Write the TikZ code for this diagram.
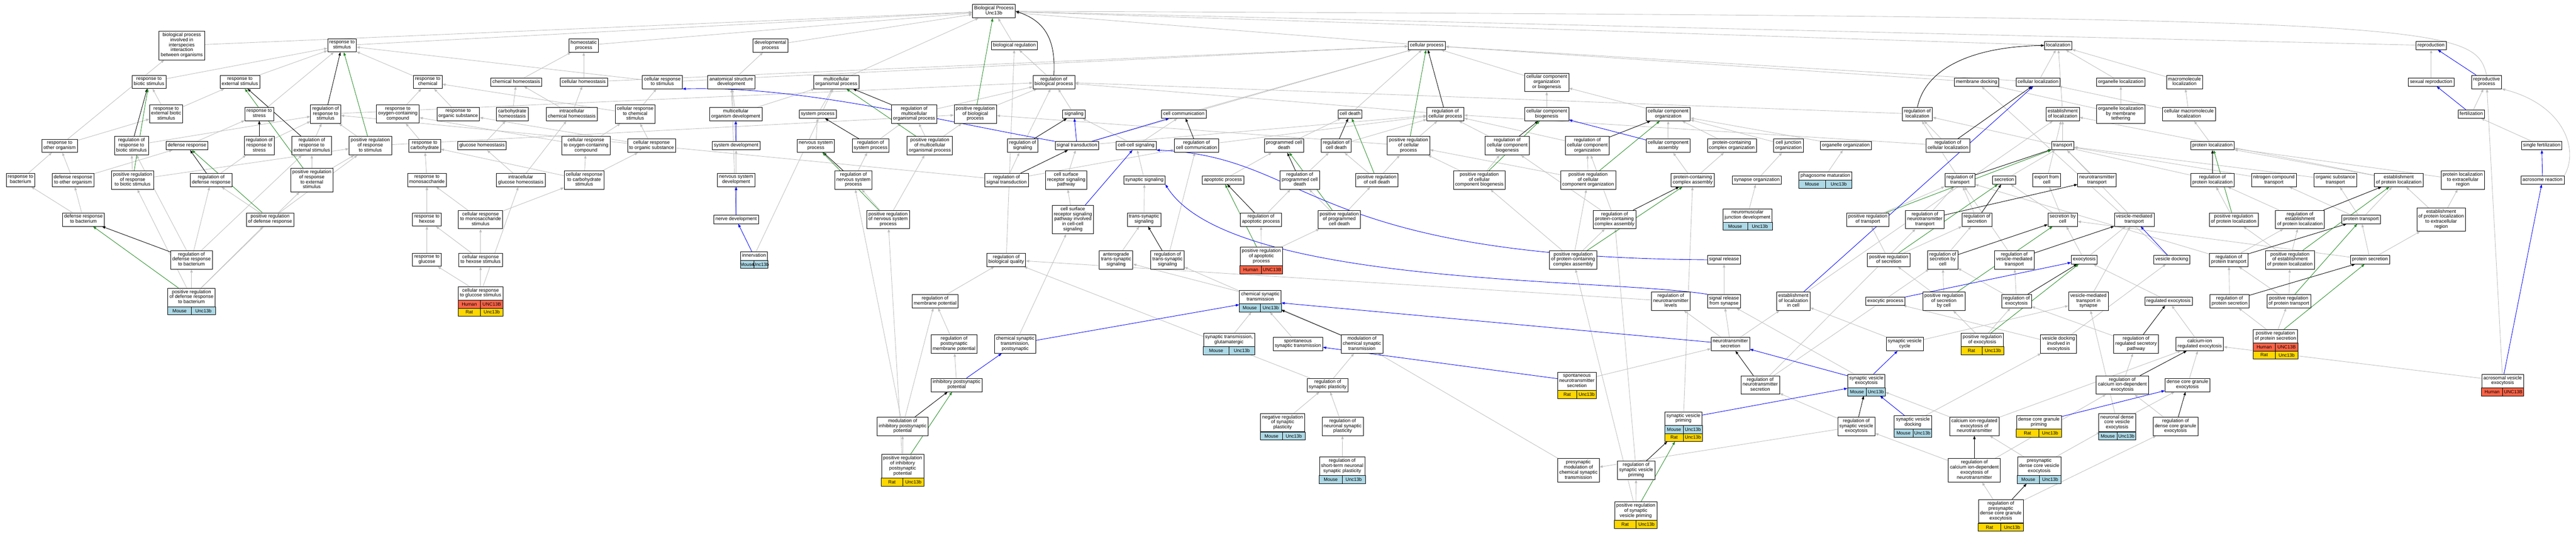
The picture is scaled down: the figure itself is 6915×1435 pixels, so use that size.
\documentclass[tikz,border=0pt]{standalone}
\usepackage{fontspec}
\setmainfont{Liberation Sans}
\usetikzlibrary{arrows.meta,calc,fit,backgrounds}
\definecolor{edgegray}{RGB}{190,190,190}
\definecolor{posgreen}{RGB}{34,139,34}
\definecolor{mousecol}{RGB}{173,216,230}
\definecolor{humancol}{RGB}{255,99,71}
\definecolor{ratcol}{RGB}{255,215,0}
% one row of the species / gene table under a term
\newcommand\generow[5]{%
  \draw[genecell, fill=#3] ($(#1.south west)+(0,#2*21.5)$) rectangle ($(#1.south)+(0,#2*21.5+21.5)$);
  \draw[genecell, fill=#3] ($(#1.south)+(0,#2*21.5)$) rectangle ($(#1.south east)+(0,#2*21.5+21.5)$);
  \node[genetext] at ($(#1.south west)!0.5!(#1.south)+(0,#2*21.5+10.75)$) {#4};
  \node[genetext] at ($(#1.south)!0.5!(#1.south east)+(0,#2*21.5+10.75)$) {#5};}
% frame round a term and its table, for arrows that end on it
\newcommand\genebox[2]{%
  \coordinate (#1-foot) at ($(#1.south)+(0,#2*21.5)$);
  \node[fit=(#1)(#1-foot), inner sep=0pt] (#1-all) {};}

\begin{document}
\begin{tikzpicture}[x=1pt,y=-1pt,
  term/.style={draw=black, line width=1pt, fill=white, align=center, inner xsep=4.5pt, inner ysep=4.5pt,
    font=\fontsize{13}{13.5}\selectfont, execute at begin node=\strut, execute at end node=\strut},
  genecell/.style={draw=black, line width=1pt},
  genetext/.style={font=\fontsize{12.5}{13.5}\selectfont, inner sep=0pt},
  goline/.style={line width=1.2pt, -{Triangle[length=9pt,width=6.5pt]}},
  isa/.style={goline, edgegray},
  partof/.style={goline, blue},
  regulates/.style={goline, black},
  posregulates/.style={goline, posgreen}]
\useasboundingbox (0,0) rectangle (6915,1435);

%%%%% TERMS %%%%%
\node[term] (root) at (2668,30) {Biological Process\\Unc13b};

\node[term] (bpinter) at (488,122) {biological process\\involved in\\interspecies\\interaction\\between organisms};
\node[term] (stim) at (918,122) {response to\\stimulus};
\node[term] (homeo) at (1567,122) {homeostatic\\process};
\node[term] (devproc) at (2068,122) {developmental\\process};
\node[term] (bioreg) at (2723,122) {biological regulation};
\node[term] (cellproc) at (3830,122) {cellular process};
\node[term] (local) at (5525,122) {localization};
\node[term] (reproduction) at (6526,122) {reproduction};

\node[term] (biotic) at (400,220) {response to\\biotic stimulus};
\node[term] (extstim) at (644,220) {response to\\external stimulus};
\node[term] (chem) at (1148,220) {response to\\chemical};
\node[term] (chemhomeo) at (1386,220) {chemical homeostasis};
\node[term] (cellhomeo) at (1567,220) {cellular homeostasis};
\node[term] (cellstim) at (1778,220) {cellular response\\to stimulus};
\node[term] (anatdev) at (1963,220) {anatomical structure\\development};
\node[term] (multiorg) at (2245,220) {multicellular\\organismal process};
\node[term] (regbio) at (2829,220) {regulation of\\biological process};
\node[term] (ccob) at (4152,221) {cellular component\\organization\\or biogenesis};
\node[term] (memdock) at (5306,220) {membrane docking};
\node[term] (cellloc) at (5471,220) {cellular localization};
\node[term] (orgloc) at (5693,220) {organelle localization};
\node[term] (macroloc) at (5864,220) {macromolecule\\localization};
\node[term] (sexrep) at (6526,220) {sexual reproduction};
\node[term] (repproc) at (6675,220) {reproductive\\process};

\node[term] (extbiotic) at (446,306) {response to\\external biotic\\stimulus};
\node[term] (stress) at (696,306) {response to\\stress};
\node[term] (regstim) at (874,306) {regulation of\\response to\\stimulus};
\node[term] (oxy) at (1068,306) {response to\\oxygen-containing\\compound};
\node[term] (organic) at (1230,306) {response to\\organic substance};
\node[term] (carbhomeo) at (1375,306) {carbohydrate\\homeostasis};
\node[term] (intrachem) at (1535,306) {intracellular\\chemical homeostasis};
\node[term] (cellchem) at (1705,306) {cellular response\\to chemical\\stimulus};
\node[term] (multidev) at (1975,306) {multicellular\\organism development};
\node[term] (sysproc) at (2195,306) {system process};
\node[term] (regmulti) at (2454,306) {regulation of\\multicellular\\organismal process};
\node[term] (posregbio) at (2618,306) {positive regulation\\of biological\\process};
\node[term] (signaling) at (2883,306) {signaling};
\node[term] (cellcomm) at (3178,306) {cell communication};
\node[term] (celldeath) at (3624,306) {cell death};
\node[term] (regcell) at (3880,306) {regulation of\\cellular process};
\node[term] (ccbio) at (4152,306) {cellular component\\biogenesis};
\node[term] (ccorg) at (4478,306) {cellular component\\organization};
\node[term] (regloc) at (5147,306) {regulation of\\localization};
\node[term] (estloc) at (5537,306) {establishment\\of localization};
\node[term] (orglocmem) at (5693,306) {organelle localization\\by membrane\\tethering};
\node[term] (cellmacro) at (5876,306) {cellular macromolecule\\localization};
\node[term] (fert) at (6634,306) {fertilization};

\node[term] (otherorg) at (160,391) {response to\\other organism};
\node[term] (regbiotic) at (353,391) {regulation of\\response to\\biotic stimulus};
\node[term] (defense) at (502,391) {defense response};
\node[term] (regstress) at (696,391) {regulation of\\response to\\stress};
\node[term] (regextstim) at (837,391) {regulation of\\response to\\external stimulus};
\node[term] (posregstim) at (994,391) {positive regulation\\of response\\to stimulus};
\node[term] (carbo) at (1140,391) {response to\\carbohydrate};
\node[term] (glchomeo) at (1294,391) {glucose homeostasis};
\node[term] (celloxy) at (1573,391) {cellular response\\to oxygen-containing\\compound};
\node[term] (cellorganic) at (1749,391) {cellular response\\to organic substance};
\node[term] (sysdev) at (1976,391) {system development};
\node[term] (nsproc) at (2190,391) {nervous system\\process};
\node[term] (regsysproc) at (2337,391) {regulation of\\system process};
\node[term] (posregmulti) at (2496,391) {positive regulation\\of multicellular\\organismal process};
\node[term] (regsig) at (2745,391) {regulation of\\signaling};
\node[term] (sigtrans) at (2891,391) {signal transduction};
\node[term] (cellcell) at (3050,391) {cell-cell signaling};
\node[term] (regcomm) at (3212,391) {regulation of\\cell communication};
\node[term] (progdeath) at (3447,391) {programmed cell\\death};
\node[term] (regcelldeath) at (3587,391) {regulation of\\cell death};
\node[term] (posregcell) at (3781,391) {positive regulation\\of cellular\\process};
\node[term] (regccbio) at (4046,391) {regulation of\\cellular component\\biogenesis};
\node[term] (regccorg) at (4261,391) {regulation of\\cellular component\\organization};
\node[term] (ccassembly) at (4478,391) {cellular component\\assembly};
\node[term] (pcorg) at (4649,391) {protein-containing\\complex organization};
\node[term] (celljunc) at (4801,391) {cell junction\\organization};
\node[term] (orgorg) at (4955,391) {organelle organization};
\node[term] (regcellloc) at (5229,391) {regulation of\\cellular localization};
\node[term] (transport) at (5537,391) {transport};
\node[term] (protloc) at (5939,391) {protein localization};
\node[term] (singlefert) at (6823,391) {single fertilization};

\node[term] (bact) at (55,483) {response to\\bacterium};
\node[term] (deforg) at (196,483) {defense response\\to other organism};
\node[term] (posregbiotic) at (356,483) {positive regulation\\of response\\to biotic stimulus};
\node[term] (regdef) at (567,483) {regulation of\\defense response};
\node[term] (posregext) at (837,483) {positive regulation\\of response\\to external\\stimulus};
\node[term] (monosacch) at (1146,483) {response to\\monosaccharide};
\node[term] (intraglc) at (1398,483) {intracellular\\glucose homeostasis};
\node[term] (cellcarbo) at (1568,483) {cellular response\\to carbohydrate\\stimulus};
\node[term] (nsdev) at (1976,483) {nervous system\\development};
\node[term] (regnsproc) at (2291,483) {regulation of\\nervous system\\process};
\node[term] (regsigtrans) at (2702,483) {regulation of\\signal transduction};
\node[term] (csrsp) at (2862,483) {cell surface\\receptor signaling\\pathway};
\node[term] (synsig) at (3072,483) {synaptic signaling};
\node[term] (apoptosis) at (3283,483) {apoptotic process};
\node[term] (regprog) at (3489,483) {regulation of\\programmed cell\\death};
\node[term] (posregcelldeath) at (3696,483) {positive regulation\\of cell death};
\node[term] (posregccbio) at (3971,483) {positive regulation\\of cellular\\component biogenesis};
\node[term] (posregccorg) at (4263,483) {positive regulation\\of cellular\\component organization};
\node[term] (pcassembly) at (4544,483) {protein-containing\\complex assembly};
\node[term] (synorg) at (4716,483) {synapse organization};
\node[term] (phago) at (4900,472) {phagosome maturation};
\node[term] (regtransport) at (5261,483) {regulation of\\transport};
\node[term] (secretion) at (5380,483) {secretion};
\node[term] (exportcell) at (5494,483) {export from\\cell};
\node[term] (nttransport) at (5629,483) {neurotransmitter\\transport};
\node[term] (regprotloc) at (5939,483) {regulation of\\protein localization};
\node[term] (nitro) at (6104,483) {nitrogen compound\\transport};
\node[term] (orgsubst) at (6269,483) {organic substance\\transport};
\node[term] (estprotloc) at (6439,483) {establishment\\of protein localization};
\node[term] (protlocext) at (6611,483) {protein localization\\to extracellular\\region};
\node[term] (acrosome) at (6825,483) {acrosome reaction};

\node[term] (defbact) at (224,589) {defense response\\to bacterium};
\node[term] (posregdef) at (725,589) {positive regulation\\of defense response};
\node[term] (hexose) at (1146,589) {response to\\hexose};
\node[term] (cellmono) at (1290,589) {cellular response\\to monosaccharide\\stimulus};
\node[term] (nervedev) at (1976,589) {nerve development};
\node[term] (posregns) at (2384,589) {positive regulation\\of nervous system\\process};
\node[term] (csrspcc) at (2880,589) {cell surface\\receptor signaling\\pathway involved\\in cell-cell\\signaling};
\node[term] (transsyn) at (3071,589) {trans-synaptic\\signaling};
\node[term] (regapop) at (3385,589) {regulation of\\apoptotic process};
\node[term] (posregprog) at (3595,589) {positive regulation\\of programmed\\cell death};
\node[term] (regpcassembly) at (4334,589) {regulation of\\protein-containing\\complex assembly};
\node[term] (nmjdev) at (4691,578) {neuromuscular\\junction development};
\node[term] (posregtrans) at (5014,589) {positive regulation\\of transport};
\node[term] (regnttrans) at (5167,589) {regulation of\\neurotransmitter\\transport};
\node[term] (regsecretion) at (5307,589) {regulation of\\secretion};
\node[term] (secbycell) at (5537,589) {secretion by\\cell};
\node[term] (vesmed) at (5729,589) {vesicle-mediated\\transport};
\node[term] (posregprotloc) at (5996,589) {positive regulation\\of protein localization};
\node[term] (regestprotloc) at (6174,589) {regulation of\\establishment\\of protein localization};
\node[term] (prottrans) at (6338,589) {protein transport};
\node[term] (estprotlocext) at (6553,589) {establishment\\of protein localization\\to extracellular\\region};

\node[term] (regdefbact) at (514,697) {regulation of\\defense response\\to bacterium};
\node[term] (glucose) at (1146,697) {response to\\glucose};
\node[term] (cellhexose) at (1290,697) {cellular response\\to hexose stimulus};
\node[term] (innerv) at (2024,687) {innervation};
\node[term] (regbioqual) at (2701,697) {regulation of\\biological quality};
\node[term] (antero) at (2996,697) {anterograde\\trans-synaptic\\signaling};
\node[term] (regtranssyn) at (3134,697) {regulation of\\trans-synaptic\\signaling};
\node[term] (posregapop) at (3386,688) {positive regulation\\of apoptotic\\process};
\node[term] (posregpc) at (4223,697) {positive regulation\\of protein-containing\\complex assembly};
\node[term] (sigrel) at (4628,697) {signal release};
\node[term] (posregsec) at (5070,697) {positive regulation\\of secretion};
\node[term] (regsecbycell) at (5215,697) {regulation of\\secretion by\\cell};
\node[term] (regvesmed) at (5407,697) {regulation of\\vesicle-mediated\\transport};
\node[term] (exocytosis) at (5595,697) {exocytosis};
\node[term] (vesdock) at (5830,697) {vesicle docking};
\node[term] (regprottrans) at (5983,697) {regulation of\\protein transport};
\node[term] (posregestprotloc) at (6147,697) {positive regulation\\of establishment\\of protein localization};
\node[term] (protsec) at (6362,697) {protein secretion};

\node[term] (posregdefbact) at (514,798) {positive regulation\\of defense response\\to bacterium};
\node[term] (cellglc) at (1290,787) {cellular response\\to glucose stimulus};
\node[term] (regmem) at (2510,808) {regulation of\\membrane potential};
\node[term] (chemsyn) at (3383,797) {chemical synaptic\\transmission};
\node[term] (regntlevels) at (4485,808) {regulation of\\neurotransmitter\\levels};
\node[term] (sigrelsyn) at (4628,808) {signal release\\from synapse};
\node[term] (estlocincell) at (4814,808) {establishment\\of localization\\in cell};
\node[term] (exoproc) at (5061,808) {exocytic process};
\node[term] (posregsecbycell) at (5218,808) {positive regulation\\of secretion\\by cell};
\node[term] (regexo) at (5413,808) {regulation of\\exocytosis};
\node[term] (vesmedsyn) at (5606,808) {vesicle-mediated\\transport in\\synapse};
\node[term] (regulatedexo) at (5821,808) {regulated exocytosis};
\node[term] (regprotsec) at (5985,808) {regulation of\\protein secretion};
\node[term] (posregprottrans) at (6144,808) {positive regulation\\of protein transport};

\node[term] (regpostmem) at (2561,923) {regulation of\\postsynaptic\\membrane potential};
\node[term] (chempost) at (2725,923) {chemical synaptic\\transmission,\\postsynaptic};
\node[term] (glut) at (3299,912) {synaptic transmission,\\glutamatergic};
\node[term] (spontsyn) at (3484,923) {spontaneous\\synaptic transmission};
\node[term] (modchem) at (3656,923) {modulation of\\chemical synaptic\\transmission};
\node[term] (ntsecretion) at (4645,923) {neurotransmitter\\secretion};
\node[term] (svcycle) at (5113,923) {synaptic vesicle\\cycle};
\node[term] (posregexo) at (5321,912) {positive regulation\\of exocytosis};
\node[term] (vesdockexo) at (5526,923) {vesicle docking\\involved in\\exocytosis};
\node[term] (regregsec) at (5734,923) {regulation of\\regulated secretory\\pathway};
\node[term] (calciumexo) at (5905,923) {calcium-ion\\regulated exocytosis};
\node[term] (posregprotsec) at (6108,902) {positive regulation\\of protein secretion};

\node[term] (ips) at (2568,1033) {inhibitory postsynaptic\\potential};
\node[term] (regsynplast) at (3564,1033) {regulation of\\synaptic plasticity};
\node[term] (spontnt) at (4233,1023) {spontaneous\\neurotransmitter\\secretion};
\node[term] (regntsec) at (4725,1033) {regulation of\\neurotransmitter\\secretion};
\node[term] (svexo) at (5010,1022) {synaptic vesicle\\exocytosis};
\node[term] (regcaexo) at (5697,1033) {regulation of\\calcium ion-dependent\\exocytosis};
\node[term] (dcgexo) at (5872,1033) {dense core granule\\exocytosis};
\node[term] (acrosomal) at (6718,1022) {acrosomal vesicle\\exocytosis};

\node[term] (modips) at (2423,1144) {modulation of\\inhibitory postsynaptic\\potential};
\node[term] (negsynplast) at (3443,1134) {negative regulation\\of synaptic\\plasticity};
\node[term] (regneurplast) at (3604,1144) {regulation of\\neuronal synaptic\\plasticity};
\node[term] (svpriming) at (4519,1123) {synaptic vesicle\\priming};
\node[term] (regsvexo) at (4983,1144) {regulation of\\synaptic vesicle\\exocytosis};
\node[term] (svdock) at (5135,1133) {synaptic vesicle\\docking};
\node[term] (caexont) at (5300,1144) {calcium ion-regulated\\exocytosis of\\neurotransmitter};
\node[term] (dcgpriming) at (5473,1133) {dense core granule\\priming};
\node[term] (neurdcv) at (5683,1134) {neuronal dense\\core vesicle\\exocytosis};
\node[term] (regdcgexo) at (5840,1144) {regulation of\\dense core granule\\exocytosis};

\node[term] (posregips) at (2423,1251) {positive regulation\\of inhibitory\\postsynaptic\\potential};
\node[term] (regstneur) at (3603,1251) {regulation of\\short-term neuronal\\synaptic plasticity};
\node[term] (premod) at (4237,1262) {presynaptic\\modulation of\\chemical synaptic\\transmission};
\node[term] (regsvprim) at (4392,1262) {regulation of\\synaptic vesicle\\priming};
\node[term] (regcaexont) at (5300,1262) {regulation of\\calcium ion-dependent\\exocytosis of\\neurotransmitter};
\node[term] (presyndcv) at (5474,1251) {presynaptic\\dense core vesicle\\exocytosis};

\node[term] (posregsvprim) at (4391,1371) {positive regulation\\of synaptic\\vesicle priming};
\node[term] (regpresyndcg) at (5371,1372) {regulation of\\presynaptic\\dense core granule\\exocytosis};

%%%%% GENE TABLES %%%%%
\generow{posregdefbact}{0}{mousecol}{Mouse}{Unc13b}
\generow{cellglc}{0}{humancol}{Human}{UNC13B}
\generow{cellglc}{1}{ratcol}{Rat}{Unc13b}
\generow{innerv}{0}{mousecol}{Mouse}{Unc13b}
\generow{posregapop}{0}{humancol}{Human}{UNC13B}
\generow{chemsyn}{0}{mousecol}{Mouse}{Unc13b}
\genebox{chemsyn}{1}
\generow{glut}{0}{mousecol}{Mouse}{Unc13b}
\generow{negsynplast}{0}{mousecol}{Mouse}{Unc13b}
\generow{posregips}{0}{ratcol}{Rat}{Unc13b}
\generow{spontnt}{0}{ratcol}{Rat}{Unc13b}
\generow{svpriming}{0}{mousecol}{Mouse}{Unc13b}
\generow{svpriming}{1}{ratcol}{Rat}{Unc13b}
\genebox{svpriming}{2}
\generow{regstneur}{0}{mousecol}{Mouse}{Unc13b}
\generow{posregsvprim}{0}{ratcol}{Rat}{Unc13b}
\generow{phago}{0}{mousecol}{Mouse}{Unc13b}
\generow{nmjdev}{0}{mousecol}{Mouse}{Unc13b}
\generow{posregexo}{0}{ratcol}{Rat}{Unc13b}
\generow{posregprotsec}{0}{humancol}{Human}{UNC13B}
\generow{posregprotsec}{1}{ratcol}{Rat}{Unc13b}
\generow{svexo}{0}{mousecol}{Mouse}{Unc13b}
\genebox{svexo}{1}
\generow{acrosomal}{0}{humancol}{Human}{UNC13B}
\generow{svdock}{0}{mousecol}{Mouse}{Unc13b}
\generow{dcgpriming}{0}{ratcol}{Rat}{Unc13b}
\generow{neurdcv}{0}{mousecol}{Mouse}{Unc13b}
\generow{presyndcv}{0}{mousecol}{Mouse}{Unc13b}
\genebox{presyndcv}{1}
\generow{regpresyndcg}{0}{ratcol}{Rat}{Unc13b}

%%%%% RELATIONS %%%%%
\begin{scope}[on background layer]
% is a
\draw[isa] (bpinter) -- (root);
\draw[isa] (stim) -- (root);
\draw[isa] (homeo) -- (root);
\draw[isa] (devproc) -- (root);
\draw[isa] (multiorg) -- (root);
\draw[isa] (bioreg) -- (root);
\draw[isa] (cellproc) -- (root);
\draw[isa] (local) -- (root);
\draw[isa] (reproduction) -- (root);
\draw[isa] (repproc.north) .. controls (6640,60) and (6560,45) .. (root);
\draw[isa] (otherorg) -- (bpinter);
\draw[isa] (otherorg) -- (extbiotic);
\draw[isa] (biotic) -- (stim);
\draw[isa] (extstim) -- (stim);
\draw[isa] (stress) -- (stim);
\draw[isa] (chem) -- (stim);
\draw[isa] (cellstim) -- (stim);
\draw[isa] (extbiotic) -- (biotic);
\draw[isa] (extbiotic) -- (extstim);
\draw[isa] (regbiotic) -- (regstim);
\draw[isa] (defense) -- (stress);
\draw[isa] (regstress) -- (regstim);
\draw[isa] (regextstim) -- (regstim);
\draw[isa] (posregstim) -- (regstim);
\draw[isa] (oxy) -- (chem);
\draw[isa] (regstim) -- (regbio);
\draw[isa] (posregstim) -- (posregbio);
\draw[isa] (carbo) -- (oxy);
\draw[isa] (bact) -- (otherorg);
\draw[isa] (deforg) -- (otherorg);
\draw[isa] (deforg) -- (defense);
\draw[isa] (posregbiotic) -- (regbiotic);
\draw[isa] (posregbiotic) -- (posregstim);
\draw[isa] (regdef) -- (regstress);
\draw[isa] (posregext) -- (regextstim);
\draw[isa] (posregext) -- (posregstim);
\draw[isa] (monosacch) -- (carbo);
\draw[isa] (defbact) -- (bact);
\draw[isa] (defbact) -- (deforg);
\draw[isa] (posregdef) -- (regdef);
\draw[isa] (posregdef) -- (posregstim);
\draw[isa] (hexose) -- (monosacch);
\draw[isa] (regdefbact) -- (regbiotic);
\draw[isa] (regdefbact) -- (regdef);
\draw[isa] (regdefbact) -- (regextstim);
\draw[isa] (glucose) -- (hexose);
\draw[isa] (posregdefbact) -- (regdefbact);
\draw[isa] (posregdefbact) -- (posregbiotic);
\draw[isa] (posregdefbact) -- (posregdef);
\draw[isa] (posregdefbact) -- (posregext);
\draw[isa] (chemhomeo) -- (homeo);
\draw[isa] (cellhomeo) -- (homeo);
\draw[isa] (cellhomeo) -- (cellproc);
\draw[isa] (anatdev) -- (devproc);
\draw[isa] (organic) -- (chem);
\draw[isa] (carbhomeo) -- (chemhomeo);
\draw[isa] (intrachem) -- (chemhomeo);
\draw[isa] (intrachem) -- (cellhomeo);
\draw[isa] (cellchem) -- (cellstim);
\draw[isa] (cellchem) -- (chem);
\draw[isa] (multidev) -- (anatdev);
\draw[isa] (multidev) -- (multiorg);
\draw[isa] (sysproc) -- (multiorg);
\draw[isa] (glchomeo) -- (carbhomeo);
\draw[isa] (celloxy) -- (cellchem);
\draw[isa] (celloxy) -- (oxy);
\draw[isa] (cellorganic) -- (cellchem);
\draw[isa] (cellorganic) -- (organic);
\draw[isa] (sysdev) -- (anatdev);
\draw[isa] (nsproc) -- (sysproc);
\draw[isa] (intraglc) -- (glchomeo);
\draw[isa] (intraglc) -- (intrachem);
\draw[isa] (cellcarbo) -- (celloxy);
\draw[isa] (cellcarbo) -- (cellorganic);
\draw[isa] (cellcarbo) -- (carbo);
\draw[isa] (nsdev) -- (sysdev);
\draw[isa] (regnsproc) -- (regsysproc);
\draw[isa] (cellmono) -- (cellcarbo);
\draw[isa] (cellmono) -- (monosacch);
\draw[isa] (nervedev) -- (anatdev);
\draw[isa] (posregns) -- (regnsproc);
\draw[isa] (posregns) -- (posregmulti);
\draw[isa] (cellhexose) -- (cellmono);
\draw[isa] (cellhexose) -- (hexose);
\draw[isa] (innerv) -- (multiorg);
\draw[isa] (cellglc) -- (cellhexose);
\draw[isa] (cellglc) -- (glucose);
\draw[isa] (cellglc) -- (intraglc);
\draw[isa] (cellstim) -- (cellproc);
\draw[isa] (regsysproc) -- (regmulti);
\draw[isa] (posregmulti) -- (regmulti);
\draw[isa] (posregmulti) -- (posregbio);
\draw[isa] (regmulti) -- (regbio);
\draw[isa] (posregbio) -- (regbio);
\draw[isa] (regbio) -- (bioreg);
\draw[isa] (signaling) -- (regbio);
\draw[isa] (cellcomm) -- (cellproc);
\draw[isa] (regsig) -- (regbio);
\draw[isa] (sigtrans) -- (cellproc);
\draw[isa] (sigtrans) -- (regcell);
\draw[isa] (cellcell) -- (signaling);
\draw[isa] (cellcell) -- (cellcomm);
\draw[isa] (regcomm) -- (regcell);
\draw[isa] (regsigtrans) -- (regsig);
\draw[isa] (regsigtrans) -- (regcomm);
\draw[isa] (regsigtrans) -- (regstim);
\draw[isa] (csrsp) -- (sigtrans);
\draw[isa] (synsig) -- (cellcell);
\draw[isa] (apoptosis) -- (progdeath);
\draw[isa] (csrspcc) -- (csrsp);
\draw[isa] (transsyn) -- (synsig);
\draw[isa] (regapop) -- (regprog);
\draw[isa] (antero) -- (transsyn);
\draw[isa] (regtranssyn) -- (regcomm);
\draw[isa] (posregapop) -- (regapop);
\draw[isa] (posregapop) -- (posregprog);
\draw[isa] (regbioqual) -- (bioreg);
\draw[isa] (progdeath) -- (celldeath);
\draw[isa] (regcell) -- (regbio);
\draw[isa] (regloc) -- (regbio);
\draw[isa] (posregcell) -- (posregbio);
\draw[isa] (regmem) -- (regbioqual);
\draw[isa] (regpostmem) -- (regmem);
\draw[isa] (chempost) -- (csrspcc);
\draw[isa] (ips) -- (regpostmem);
\draw[isa] (modips) -- (regmem);
\draw[isa] (modips) -- (regnsproc);
\draw[isa] (posregips) -- (modips);
\draw[isa] (posregips) -- (posregns);
\draw[isa] (chemsyn) -- (antero);
\draw[isa] (modchem) -- (regtranssyn);
\draw[isa] (glut) -- (chemsyn-all);
\draw[isa] (spontsyn) -- (chemsyn-all);
\draw[isa] (regsynplast) -- (regbioqual);
\draw[isa] (ccob) -- (cellproc);
\draw[isa] (ccbio) -- (ccob);
\draw[isa] (ccorg) -- (ccob);
\draw[isa] (celldeath) -- (cellproc);
\draw[isa] (regcelldeath) -- (regcell);
\draw[isa] (regprog) -- (regcelldeath);
\draw[isa] (posregcell) -- (regcell);
\draw[isa] (regccbio) -- (regcell);
\draw[isa] (regccorg) -- (regcell);
\draw[isa] (ccassembly) -- (ccorg);
\draw[isa] (posregcelldeath) -- (regcelldeath);
\draw[isa] (posregcelldeath) -- (posregcell);
\draw[isa] (posregccbio) -- (regccbio);
\draw[isa] (posregccbio) -- (posregcell);
\draw[isa] (posregccorg) -- (regccorg);
\draw[isa] (posregccorg) -- (posregcell);
\draw[isa] (pcassembly) -- (ccassembly);
\draw[isa] (pcassembly) -- (pcorg);
\draw[isa] (posregprog) -- (regprog);
\draw[isa] (posregprog) -- (posregcelldeath);
\draw[isa] (regpcassembly) -- (regccorg);
\draw[isa] (regpcassembly) -- (regccbio);
\draw[isa] (posregpc) -- (regpcassembly);
\draw[isa] (posregpc) -- (posregccbio);
\draw[isa] (posregpc) -- (posregccorg);
\draw[isa] (pcorg) -- (ccorg);
\draw[isa] (memdock) -- (cellproc);
\draw[isa] (cellloc) -- (local);
\draw[isa] (cellloc) -- (cellproc);
\draw[isa] (orgloc) -- (local);
\draw[isa] (estloc) -- (local);
\draw[isa] (orglocmem) -- (orgloc);
\draw[isa] (orglocmem) -- (memdock);
\draw[isa] (orgorg) -- (ccorg);
\draw[isa] (celljunc) -- (ccorg);
\draw[isa] (regcellloc) -- (regloc);
\draw[isa] (regcellloc) -- (regcell);
\draw[isa] (transport) -- (estloc);
\draw[isa] (synorg) -- (celljunc);
\draw[isa] (phago) -- (orgorg);
\draw[isa] (regtransport) -- (regloc);
\draw[isa] (secretion) -- (transport);
\draw[isa] (exportcell) -- (estloc);
\draw[isa] (nttransport) -- (transport);
\draw[isa] (nmjdev) -- (synorg);
\draw[isa] (posregtrans) -- (regtransport);
\draw[isa] (regnttrans) -- (regtransport);
\draw[isa] (regsecretion) -- (regtransport);
\draw[isa] (secbycell) -- (secretion);
\draw[isa] (secbycell) -- (exportcell);
\draw[isa] (vesmed) -- (transport);
\draw[isa] (posregsec) -- (posregtrans);
\draw[isa] (posregsec) -- (regsecretion);
\draw[isa] (regsecbycell) -- (regsecretion);
\draw[isa] (regvesmed) -- (regtransport);
\draw[isa] (exocytosis) -- (secbycell);
\draw[isa] (exocytosis) -- (vesmed);
\draw[isa] (sigrelsyn) -- (sigrel);
\draw[isa] (estlocincell) -- (estloc);
\draw[isa] (posregsecbycell) -- (regsecbycell);
\draw[isa] (posregsecbycell) -- (posregsec);
\draw[isa] (regexo) -- (regsecbycell);
\draw[isa] (regexo) -- (regvesmed);
\draw[isa] (vesmedsyn) -- (vesmed);
\draw[isa] (ntsecretion) -- (sigrelsyn);
\draw[isa] (ntsecretion) -- (regntlevels);
\draw[isa] (ntsecretion) -- (estlocincell);
\draw[isa] (svcycle) -- (vesmedsyn);
\draw[isa] (svcycle) -- (estlocincell);
\draw[isa] (posregexo) -- (regexo);
\draw[isa] (posregexo) -- (posregsecbycell);
\draw[isa] (vesdockexo) -- (exoproc);
\draw[isa] (vesdockexo) -- (vesdock);
\draw[isa] (regregsec) -- (regexo);
\draw[isa] (regntsec) -- (regnttrans);
\draw[isa] (regntsec) -- (regsecbycell);
\draw[isa] (svexo) -- (sigrelsyn);
\draw[isa] (regcaexo) -- (regregsec);
\draw[isa] (dcgexo) -- (calciumexo);
\draw[isa] (regsvexo) -- (regntsec);
\draw[isa] (regsvexo) -- (premod);
\draw[isa] (svdock) -- (vesdockexo);
\draw[isa] (caexont) -- (svexo-all);
\draw[isa] (caexont) -- (calciumexo);
\draw[isa] (neurdcv) -- (dcgexo);
\draw[isa] (neurdcv) -- (vesmedsyn);
\draw[isa] (regdcgexo) -- (regcaexo);
\draw[isa] (regcaexont) -- (regcaexo);
\draw[isa] (regcaexont) -- (regsvexo);
\draw[isa] (presyndcv) -- (neurdcv);
\draw[isa] (presyndcv) -- (caexont);
\draw[isa] (regpresyndcg) -- (regcaexont);
\draw[isa] (regpresyndcg) -- (regdcgexo);
\draw[isa] (posregsvprim) -- (regsvprim);
\draw[isa] (posregsvprim) -- (posregpc);
\draw[isa] (regsvprim) -- (regpcassembly);
\draw[isa] (svpriming) -- (pcassembly);
\draw[isa] (spontnt) -- (ntsecretion);
\draw[isa] (regsynplast) -- (modchem);
\draw[isa] (regneurplast) -- (regsynplast);
\draw[isa] (regstneur) -- (regneurplast);
\draw[isa] (negsynplast) -- (regsynplast);
\draw[isa] (premod) -- (modchem);
\draw[isa] (regntlevels) -- (regbioqual);
\draw[isa] (macroloc) -- (local);
\draw[isa] (cellmacro) -- (macroloc);
\draw[isa] (cellmacro) -- (cellloc);
\draw[isa] (protloc) -- (cellmacro);
\draw[isa] (posregprotloc) -- (regprotloc);
\draw[isa] (regestprotloc) -- (regprotloc);
\draw[isa] (prottrans) -- (estprotloc);
\draw[isa] (prottrans) -- (orgsubst);
\draw[isa] (prottrans) -- (nitro);
\draw[isa] (estprotloc) -- (estloc);
\draw[isa] (estprotloc) -- (protloc);
\draw[isa] (protlocext) -- (protloc);
\draw[isa] (estprotlocext) -- (estprotloc);
\draw[isa] (estprotlocext) -- (protlocext);
\draw[isa] (nitro) -- (transport);
\draw[isa] (orgsubst) -- (transport);
\draw[isa] (vesdock) -- (memdock);
\draw[isa] (regprottrans) -- (regestprotloc);
\draw[isa] (regprottrans) -- (regtransport);
\draw[isa] (posregestprotloc) -- (regestprotloc);
\draw[isa] (posregestprotloc) -- (posregprotloc);
\draw[isa] (protsec) -- (prottrans);
\draw[isa] (protsec) -- (estprotlocext);
\draw[isa] (protsec) -- (secbycell);
\draw[isa] (regprotsec) -- (regprottrans);
\draw[isa] (posregprottrans) -- (regprottrans);
\draw[isa] (posregprottrans) -- (posregestprotloc);
\draw[isa] (posregprotsec) -- (regprotsec);
\draw[isa] (posregprotsec) -- (posregprottrans);
\draw[isa] (regulatedexo) -- (exocytosis);
\draw[isa] (calciumexo) -- (regulatedexo);
\draw[isa] (sexrep) -- (reproduction);
\draw[isa] (fert) -- (repproc);
\draw[isa] (singlefert) -- (fert);
\draw[isa] (acrosome.north east) .. controls (6925,400) and (6880,280) .. (repproc.south east);
\draw[isa] (acrosomal) -- (repproc);
\draw[isa] (acrosomal) -- (calciumexo);
\draw[isa] (regprotloc) -- (regloc);
% regulates
\draw[regulates] (regbio.north) .. controls (2835,100) and (2800,55) .. (root.east);
\draw[regulates] (regstim) -- (stim);
\draw[regulates] (regbiotic) -- (biotic);
\draw[regulates] (regstress) -- (stress);
\draw[regulates] (regextstim) -- (extstim);
\draw[regulates] (regdef) -- (defense);
\draw[regulates] (regdefbact) -- (defbact);
\draw[regulates] (regsysproc) -- (sysproc);
\draw[regulates] (regnsproc) -- (nsproc);
\draw[regulates] (regmulti) -- (multiorg);
\draw[regulates] (regsig) -- (signaling);
\draw[regulates] (regsigtrans) -- (sigtrans);
\draw[regulates] (regcomm) -- (cellcomm);
\draw[regulates] (regprog) -- (progdeath);
\draw[regulates] (regapop) -- (apoptosis);
\draw[regulates] (regtranssyn) -- (transsyn);
\draw[regulates] (modips) -- (ips);
\draw[regulates] (modchem) -- (chemsyn-all);
\draw[regulates] (regcell) -- (cellproc);
\draw[regulates] (regcelldeath) -- (celldeath);
\draw[regulates] (regccbio) -- (ccbio);
\draw[regulates] (regccorg) -- (ccorg);
\draw[regulates] (regpcassembly) -- (pcassembly);
\draw[regulates] (regloc.north) .. controls (5170,180) and (5300,125) .. (local.west);
\draw[regulates] (regcellloc) -- (cellloc);
\draw[regulates] (regtransport) -- (transport);
\draw[regulates] (regnttrans) -- (nttransport);
\draw[regulates] (regsecretion) -- (secretion);
\draw[regulates] (regsecbycell) -- (secbycell);
\draw[regulates] (regvesmed) -- (vesmed);
\draw[regulates] (regexo) -- (exocytosis);
\draw[regulates] (regregsec) -- (regulatedexo);
\draw[regulates] (regntsec) -- (ntsecretion);
\draw[regulates] (regcaexo) -- (calciumexo);
\draw[regulates] (regsvexo) -- (svexo-all);
\draw[regulates] (regdcgexo) -- (dcgexo);
\draw[regulates] (regcaexont) -- (caexont);
\draw[regulates] (regpresyndcg) -- (presyndcv-all);
\draw[regulates] (regsvprim) -- (svpriming-all);
\draw[regulates] (regprotloc) -- (protloc);
\draw[regulates] (regestprotloc) -- (estprotloc);
\draw[regulates] (regprottrans) -- (prottrans);
\draw[regulates] (regprotsec) -- (protsec);
% positively regulates
\draw[posregulates] (posregbio) -- (root);
\draw[posregulates] (posregstim) -- (stim);
\draw[posregulates] (posregbiotic) -- (biotic);
\draw[posregulates] (posregext) -- (extstim);
\draw[posregulates] (posregdef) -- (defense);
\draw[posregulates] (posregdefbact) -- (defbact);
\draw[posregulates] (posregns) -- (nsproc);
\draw[posregulates] (posregmulti) -- (multiorg);
\draw[posregulates] (posregapop) -- (apoptosis);
\draw[posregulates] (posregips) -- (ips);
\draw[posregulates] (posregcell) -- (cellproc);
\draw[posregulates] (posregcelldeath) -- (celldeath);
\draw[posregulates] (posregccbio) -- (ccbio);
\draw[posregulates] (posregccorg) -- (ccorg);
\draw[posregulates] (posregprog) -- (progdeath);
\draw[posregulates] (posregpc) -- (pcassembly);
\draw[posregulates] (posregtrans) -- (transport);
\draw[posregulates] (posregsec) -- (secretion);
\draw[posregulates] (posregsecbycell) -- (secbycell);
\draw[posregulates] (posregexo) -- (exocytosis);
\draw[posregulates] (posregsvprim) -- (svpriming-all);
\draw[posregulates] (posregprotloc) -- (protloc);
\draw[posregulates] (posregestprotloc) -- (estprotloc);
\draw[posregulates] (posregprottrans) -- (prottrans);
\draw[posregulates] (posregprotsec) -- (protsec);
% part of
\draw[partof] (sysdev) -- (multidev);
\draw[partof] (nervedev) -- (nsdev);
\draw[partof] (innerv) -- (nervedev);
\draw[partof] (sigtrans.north west) .. controls (2500,320) and (2150,230) .. (cellstim.south east);
\draw[partof] (sigtrans) -- (signaling);
\draw[partof] (sigtrans) -- (cellcomm);
\draw[partof] (csrspcc) -- (cellcell);
\draw[partof] (sigrel.west) .. controls (3500,690) and (3520,420) .. (cellcell.south east);
\draw[partof] (sigrelsyn.north west) .. controls (4300,745) and (3300,770) .. (synsig.south east);
\draw[partof] (chempost) -- (chemsyn-all);
\draw[partof] (ips) -- (chempost);
\draw[partof] (ntsecretion) -- (chemsyn-all);
\draw[partof] (ccassembly) -- (ccbio);
\draw[partof] (estlocincell) -- (cellloc);
\draw[partof] (exoproc) -- (exocytosis);
\draw[partof] (svexo) -- (ntsecretion);
\draw[partof] (svexo) -- (svcycle);
\draw[partof] (svdock) -- (svexo-all);
\draw[partof] (dcgpriming) -- (dcgexo);
\draw[partof] (svpriming) -- (svexo-all);
\draw[partof] (spontnt) -- (spontsyn);
\draw[partof] (vesdock) -- (vesmed);
\draw[partof] (repproc) -- (reproduction);
\draw[partof] (fert) -- (sexrep);
\draw[partof] (acrosome) -- (singlefert);
\draw[partof] (acrosomal) -- (acrosome);
\end{scope}
\end{tikzpicture}
\end{document}
